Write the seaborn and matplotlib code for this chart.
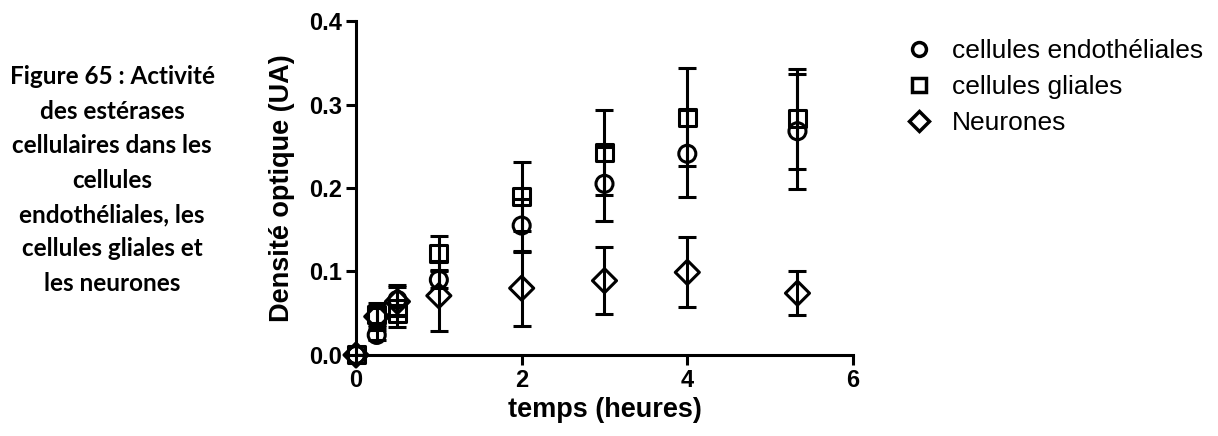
"""Activité des estérases cellulaires — densité optique au cours du temps."""

import matplotlib

matplotlib.use("Agg")

import matplotlib.pyplot as plt
import pandas as pd
import seaborn as sns
from matplotlib.lines import Line2D

# temps (heures)
times = [0, 0.25, 0.5, 1, 2, 3, 4, 5.33]

# densité optique moyenne et écart-type par type cellulaire
endo = [0.0, 0.024, 0.066, 0.090, 0.155, 0.205, 0.241, 0.268]
endo_sd = [0.0, 0.006, 0.018, 0.010, 0.032, 0.044, 0.052, 0.069]
glia = [0.0, 0.048, 0.050, 0.122, 0.190, 0.243, 0.285, 0.283]
glia_sd = [0.0, 0.014, 0.016, 0.020, 0.041, 0.051, 0.059, 0.060]
neur = [0.0, 0.046, 0.064, 0.071, 0.080, 0.089, 0.099, 0.074]
neur_sd = [0.0, 0.010, 0.017, 0.042, 0.045, 0.040, 0.042, 0.026]

series_names = ["cellules endothéliales", "cellules gliales", "Neurones"]
series_markers = ["o", "s", "D"]

x_ticks = [0, 2, 4, 6]
y_ticks = [0.0, 0.1, 0.2, 0.3, 0.4]
y_tick_labels = ["0.0", "0.1", "0.2", "0.3", "0.4"]

caption = ("Figure 65 : Activité\ndes estérases\ncellulaires dans les\ncellules\n"
           "endothéliales, les\ncellules gliales et\nles neurones")


def build_frame() -> pd.DataFrame:
    frames = []
    for name, means, sds in zip(series_names, [endo, glia, neur], [endo_sd, glia_sd, neur_sd]):
        frames.append(pd.DataFrame({"temps": times, "do": means, "sd": sds, "cell": name}))
    return pd.concat(frames, ignore_index=True)


def main() -> None:
    df = build_frame()

    sns.set_theme(style="ticks")
    plt.rcParams["font.family"] = ["Liberation Sans", "DejaVu Sans"]
    for key in ["text.color", "axes.labelcolor", "xtick.color", "ytick.color"]:
        plt.rcParams[key] = "black"

    fig = plt.figure(figsize=(12.18, 4.36), dpi=100)
    ax = fig.add_axes([0.2923, 0.1858, 0.7003 - 0.2923, 0.9518 - 0.1858])

    # error bars first, markers on top
    for name in series_names:
        sub = df[df["cell"] == name]
        ax.errorbar(sub["temps"], sub["do"], yerr=sub["sd"], fmt="none",
                    ecolor="black", elinewidth=2.2, capsize=6.5, capthick=2.2, zorder=2)

    sns.scatterplot(data=df, x="temps", y="do", style="cell",
                    markers=dict(zip(series_names, series_markers)),
                    s=150, color="black", edgecolor="black", linewidth=2.2,
                    legend=False, ax=ax, zorder=3, clip_on=False)
    for coll in ax.collections:
        coll.set_facecolor("none")

    ax.set_xlim(0, 6)
    ax.set_ylim(0, 0.4)
    ax.set_xticks(x_ticks)
    ax.set_yticks(y_ticks)
    ax.set_yticklabels(y_tick_labels)
    ax.tick_params(axis="both", labelsize=17, width=2.2, length=7, pad=3, colors="black")
    for lab in ax.get_xticklabels() + ax.get_yticklabels():
        lab.set_fontweight("bold")

    sns.despine(ax=ax)
    for side in ["left", "bottom"]:
        ax.spines[side].set_linewidth(2.2)
        ax.spines[side].set_color("black")

    ax.set_xlabel("temps (heures)", fontsize=19.5, fontweight="bold", labelpad=4)
    ax.set_ylabel("Densité optique (UA)", fontsize=19.5, fontweight="bold", labelpad=10)

    handles = [Line2D([], [], marker=m, linestyle="none", markersize=10,
                      markerfacecolor="none", markeredgecolor="black", markeredgewidth=2.5)
               for m in series_markers]
    fig.legend(handles, series_names, loc="upper left", bbox_to_anchor=(0.724, 0.965),
               frameon=False, fontsize=19, handletextpad=0.75, labelspacing=0.45,
               handlelength=1.0)

    fig.text(0.092, 0.587, caption, ha="center", va="center", fontsize=17.5,
             fontweight="bold", family=["Lato", "DejaVu Sans"], linespacing=1.6)

    fig.savefig("out.png", dpi=100)
    plt.close(fig)


if __name__ == "__main__":
    main()
